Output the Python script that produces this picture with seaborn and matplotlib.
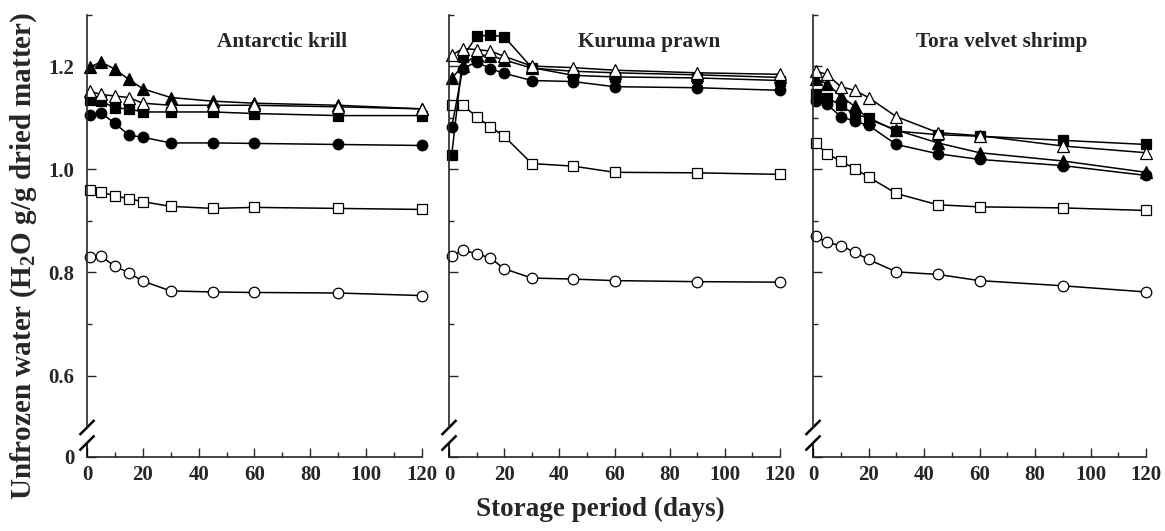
import matplotlib
matplotlib.use("Agg")
import matplotlib.pyplot as plt
from matplotlib.transforms import ScaledTranslation
import seaborn as sns
import numpy as np

# ---------------- data ----------------
days = [1, 5, 10, 15, 20, 30, 45, 60, 90, 120]

panel_titles = ["Antarctic krill", "Kuruma prawn", "Tora velvet shrimp"]

# Antarctic krill
krill_open_circle   = [0.830, 0.831, 0.812, 0.799, 0.783, 0.764, 0.762, 0.761, 0.760, 0.755]
krill_open_square   = [0.959, 0.956, 0.948, 0.943, 0.937, 0.928, 0.924, 0.926, 0.924, 0.922]
krill_filled_circle = [1.106, 1.109, 1.089, 1.066, 1.062, 1.051, 1.051, 1.050, 1.048, 1.046]
krill_filled_square = [1.135, 1.132, 1.119, 1.117, 1.111, 1.111, 1.111, 1.108, 1.104, 1.104]
krill_filled_tri    = [1.198, 1.208, 1.194, 1.174, 1.156, 1.139, 1.132, 1.128, 1.124, 1.117]
krill_open_tri      = [1.151, 1.145, 1.142, 1.139, 1.128, 1.124, 1.124, 1.124, 1.121, 1.117]

# Kuruma prawn
kuruma_open_circle   = [0.832, 0.843, 0.836, 0.828, 0.807, 0.789, 0.787, 0.784, 0.782, 0.781]
kuruma_open_square   = [1.124, 1.124, 1.102, 1.082, 1.064, 1.011, 1.006, 0.994, 0.993, 0.990]
kuruma_filled_circle = [1.082, 1.195, 1.208, 1.195, 1.186, 1.172, 1.170, 1.160, 1.158, 1.153]
kuruma_filled_square = [1.028, 1.218, 1.258, 1.260, 1.257, 1.197, 1.182, 1.179, 1.177, 1.172]
kuruma_filled_tri    = [1.176, 1.201, 1.222, 1.220, 1.212, 1.196, 1.190, 1.187, 1.183, 1.178]
kuruma_open_tri      = [1.221, 1.234, 1.232, 1.229, 1.219, 1.200, 1.197, 1.192, 1.187, 1.184]

# Tora velvet shrimp
tora_open_circle   = [0.870, 0.858, 0.852, 0.839, 0.825, 0.801, 0.796, 0.784, 0.774, 0.762]
tora_open_square   = [1.051, 1.030, 1.016, 1.001, 0.985, 0.953, 0.931, 0.927, 0.925, 0.920]
tora_filled_circle = [1.132, 1.126, 1.102, 1.093, 1.085, 1.048, 1.030, 1.019, 1.007, 0.988]
tora_filled_square = [1.145, 1.139, 1.124, 1.106, 1.100, 1.074, 1.067, 1.064, 1.056, 1.048]
tora_filled_tri    = [1.174, 1.166, 1.142, 1.122, 1.097, 1.076, 1.051, 1.032, 1.016, 0.994]
tora_open_tri      = [1.190, 1.184, 1.160, 1.153, 1.139, 1.102, 1.071, 1.065, 1.045, 1.032]

panels = [
    [krill_open_circle, krill_open_square, krill_filled_circle,
     krill_filled_square, krill_filled_tri, krill_open_tri],
    [kuruma_open_circle, kuruma_open_square, kuruma_filled_circle,
     kuruma_filled_square, kuruma_filled_tri, kuruma_open_tri],
    [tora_open_circle, tora_open_square, tora_filled_circle,
     tora_filled_square, tora_filled_tri, tora_open_tri],
]

# marker style for each series (same order as in panels)
series_styles = [
    ("o", "white"),
    ("s", "white"),
    ("o", "black"),
    ("s", "black"),
    ("^", "black"),
    ("^", "white"),
]
marker_sizes = {"o": 7.6, "s": 7.6, "^": 8.2}

y_major = [0.6, 0.8, 1.0, 1.2]
y_minor = [0.7, 0.9, 1.1, 1.3]
x_major = [0, 20, 40, 60, 80, 100, 120]
x_minor = [10, 30, 50, 70, 90, 110]

Y_BOTTOM = 0.442
Y_TOP = 1.3

# ---------------- style ----------------
sns.set_style("ticks")
plt.rcParams["font.family"] = ["Liberation Serif", "DejaVu Serif"]
plt.rcParams["font.weight"] = "bold"
plt.rcParams["mathtext.fontset"] = "custom"
plt.rcParams["mathtext.rm"] = "Liberation Serif:bold"
plt.rcParams["mathtext.it"] = "Liberation Serif:bold"
plt.rcParams["mathtext.bf"] = "Liberation Serif:bold"

fig = plt.figure(figsize=(11.65, 5.31), dpi=100)

W, H = 1165.0, 531.0
ax_px = [(87, 422), (449, 780), (813, 1146)]
top_px, bot_px = 14.5, 457.0
title_pos = [0.582, 0.604, 0.568]

for i, (x0, x1) in enumerate(ax_px):
    ax = fig.add_axes([x0 / W, 1 - bot_px / H, (x1 - x0) / W, (bot_px - top_px) / H])
    for vals, (mk, fc) in zip(panels[i], series_styles):
        sns.lineplot(x=days, y=vals, ax=ax, color="black", linewidth=1.1,
                     marker=mk, markersize=marker_sizes[mk],
                     markerfacecolor=fc, markeredgecolor="black",
                     markeredgewidth=0.9, clip_on=False, legend=False,
                     errorbar=None)
    ax.set_xlim(0, 120)
    ax.set_ylim(Y_BOTTOM, Y_TOP)
    ax.set_xlabel("")
    ax.set_ylabel("")
    sns.despine(ax=ax)
    for sp in ["left", "bottom"]:
        ax.spines[sp].set_linewidth(1.2)
    ax.spines["left"].set_bounds(0.4995, Y_TOP)
    # lower part of the broken y axis
    ax.plot([0, 0], [Y_BOTTOM, 0.469], color="black", lw=1.2, clip_on=False)

    ax.set_xticks(x_major)
    ax.set_xticks(x_minor, minor=True)
    ax.set_xticklabels([str(v) for v in x_major], fontsize=15, fontweight="bold")
    ax.set_yticks([Y_BOTTOM] + y_major)
    ax.set_yticks(y_minor, minor=True)
    if i == 0:
        ax.set_yticklabels(["0"] + [f"{v:.1f}" for v in y_major], fontsize=15,
                           fontweight="bold")
    else:
        ax.set_yticklabels([])
    ax.tick_params(axis="both", which="major", direction="in", length=6.5,
                   width=1.0, pad=6)
    ax.tick_params(axis="both", which="minor", direction="in", length=3.5,
                   width=1.0)
    ax.tick_params(axis="y", which="major", pad=9)

    # break marks
    h = 0.075
    for yc in [(bot_px - 427.5) / (bot_px - top_px), (bot_px - 443.0) / (bot_px - top_px)]:
        tr = fig.dpi_scale_trans + ScaledTranslation(0, yc, ax.transAxes)
        ax.plot([-h, h], [-h, h], color="black", lw=1.8, transform=tr,
                clip_on=False, solid_capstyle="butt")

    ax.text(title_pos[i], 0.938, panel_titles[i], transform=ax.transAxes,
            ha="center", va="center", fontsize=15.3, fontweight="bold")

fig.text(0.020, 0.518, r"Unfrozen water (H$_{2}$O g/g dried matter)",
         rotation=90, ha="center", va="center", fontsize=21, fontweight="bold")
fig.text(0.515, 0.040, "Storage period (days)", ha="center", va="center",
         fontsize=19.5, fontweight="bold")

fig.savefig("out.png", dpi=100)
